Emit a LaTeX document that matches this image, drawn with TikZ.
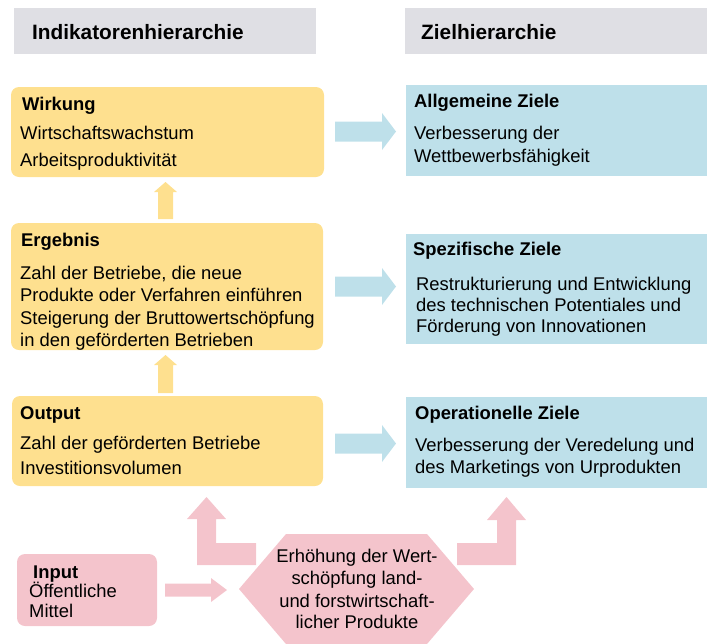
\documentclass[tikz,border=0pt]{standalone}
\usepackage{fontspec}
\setmainfont{Liberation Sans}
\definecolor{hdrgray}{RGB}{223,223,228}
\definecolor{orgfill}{RGB}{254,224,143}
\definecolor{blufill}{RGB}{190,224,234}
\definecolor{pnkfill}{RGB}{244,196,204}
\begin{document}
\begin{tikzpicture}[x=1pt,y=-1pt,
  box/.style={inner sep=0pt, outer sep=0pt, draw=none},
  obox/.style={box, fill=orgfill, rounded corners=8pt},
  bbox/.style={box, fill=blufill},
  pbox/.style={box, fill=pnkfill, rounded corners=8pt},
  hbox/.style={box, fill=hdrgray},
  txt/.style={inner sep=0pt, anchor=base west, font=\fontsize{18.4}{22}\selectfont},
  ttl/.style={inner sep=0pt, anchor=base west, font=\fontsize{18.4}{22}\selectfont\bfseries},
  hdtxt/.style={inner sep=0pt, anchor=base west, font=\fontsize{20.8}{24}\selectfont\bfseries},
  hextxt/.style={inner sep=0pt, anchor=base, font=\fontsize{18.4}{22}\selectfont}]
\useasboundingbox (0,0) rectangle (707,643);

% headers
\node[hbox, minimum width=302pt, minimum height=46pt] (hL) at (165,30.5) {};
\node[hbox, minimum width=302pt, minimum height=46pt] (hR) at (556,30.5) {};
\node[hdtxt] (hLt) at (32,39.3) {Indikatorenhierarchie};
\node[hdtxt] (hRt) at (421,39.3) {Zielhierarchie};

% indicator boxes
\node[obox, minimum width=313pt, minimum height=90pt] (wirk) at (167.5,132) {};
\node[obox, minimum width=312pt, minimum height=127pt] (erg) at (167,286.5) {};
\node[obox, minimum width=311pt, minimum height=90pt] (outp) at (167.5,441) {};

% goal boxes
\node[bbox, minimum width=301pt, minimum height=91pt] (allg) at (556.5,130.5) {};
\node[bbox, minimum width=301pt, minimum height=110pt] (spez) at (556.5,289) {};
\node[bbox, minimum width=301pt, minimum height=91pt] (oper) at (556.5,442.5) {};

% input box
\node[pbox, minimum width=140pt, minimum height=72pt] (inp) at (87,590) {};

% texts
\node[ttl] (wirkT) at (22,110) {Wirkung};
\node[txt] (wirk1) at (20,139) {Wirtschaftswachstum};
\node[txt] (wirk2) at (20,166) {Arbeitsproduktivität};

\node[ttl] (ergT) at (21,246) {Ergebnis};
\node[txt] (erg1) at (20,279) {Zahl der Betriebe, die neue};
\node[txt] (erg2) at (20,301) {Produkte oder Verfahren einführen};
\node[txt] (erg3) at (20,324) {Steigerung der Bruttowertschöpfung};
\node[txt] (erg4) at (20,346) {in den geförderten Betrieben};

\node[ttl] (outT) at (20,419) {Output};
\node[txt] (out1) at (20,449) {Zahl der geförderten Betriebe};
\node[txt] (out2) at (20,474) {Investitionsvolumen};

\node[ttl] (allgT) at (414,107) {Allgemeine Ziele};
\node[txt] (allg1) at (414,139) {Verbesserung der};
\node[txt] (allg2) at (414,162) {Wettbewerbsfähigkeit};

\node[ttl] (spezT) at (413,255) {Spezifische Ziele};
\node[txt] (spez1) at (416,290) {Restrukturierung und Entwicklung};
\node[txt] (spez2) at (416,311) {des technischen Potentiales und};
\node[txt] (spez3) at (416,332) {Förderung von Innovationen};

\node[ttl] (operT) at (415,419) {Operationelle Ziele};
\node[txt] (oper1) at (415,451) {Verbesserung der Veredelung und};
\node[txt] (oper2) at (415,473) {des Marketings von Urprodukten};

\node[ttl] (inpT) at (33,578) {Input};
\node[txt] (inp1) at (29,597) {Öffentliche};
\node[txt] (inp2) at (29,617) {Mittel};

% hexagon
\fill[pnkfill] (239,589) -- (286,534) -- (427,534) -- (474,589) -- (427,644) -- (286,644) -- cycle;
\node[hextxt] (hx1) at (357,562) {Erhöhung der Wert-};
\node[hextxt] (hx2) at (357,584) {schöpfung land-};
\node[hextxt] (hx3) at (357,607) {und forstwirtschaft-};
\node[hextxt] (hx4) at (357,628) {licher Produkte};

% orange up arrows
\fill[orgfill] (158,219) -- (158,192) -- (154,192) -- (165.5,182) -- (177,192) -- (173,192) -- (173,219) -- cycle;
\fill[orgfill] (158,393) -- (158,365) -- (154,365) -- (165.5,355) -- (177,365) -- (173,365) -- (173,393) -- cycle;

% blue right arrows
\fill[blufill] (335,121.5) -- (382,121.5) -- (382,113) -- (396,131.5) -- (382,150) -- (382,141.5) -- (335,141.5) -- cycle;
\fill[blufill] (335,276.5) -- (382,276.5) -- (382,268) -- (396,286.5) -- (382,305) -- (382,296.5) -- (335,296.5) -- cycle;
\fill[blufill] (335,433.5) -- (382,433.5) -- (382,425) -- (396,443.5) -- (382,462) -- (382,453.5) -- (335,453.5) -- cycle;

% pink arrows
\fill[pnkfill] (165,583.5) -- (211,583.5) -- (211,578) -- (227,590) -- (211,602) -- (211,596.5) -- (165,596.5) -- cycle;
\fill[pnkfill] (256,543) -- (216,543) -- (216,519) -- (226,519) -- (206.5,497) -- (187,519) -- (197,519) -- (197,565) -- (256,565) -- cycle;
\fill[pnkfill] (457,543) -- (497,543) -- (497,520) -- (487,520) -- (506.5,497) -- (526,520) -- (516,520) -- (516,565) -- (457,565) -- cycle;
\end{tikzpicture}
\end{document}
